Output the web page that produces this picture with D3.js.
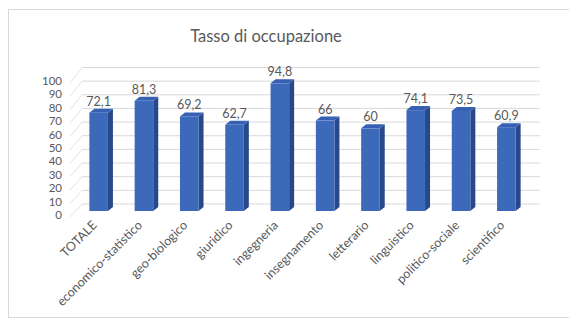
<!DOCTYPE html>
<html>
<head>
<meta charset="utf-8">
<script src="https://cdn.jsdelivr.net/npm/d3@7"></script>
<style>
  body { margin: 0; background: #fff; }
  svg { display: block; font-family: Lato, "Open Sans", sans-serif; }
</style>
</head>
<body>
<svg id="chart" width="569" height="320"></svg>
<script>
// data
const categories = ["TOTALE", "economico-statistico", "geo-biologico", "giuridico", "ingegneria",
  "insegnamento", "letterario", "linguistico", "politico-sociale", "scientifico"];
const values = [72.1, 81.3, 69.2, 62.7, 94.8, 66, 60, 74.1, 73.5, 60.9];
const yTicks = [0, 10, 20, 30, 40, 50, 60, 70, 80, 90, 100];
const title = "Tasso di occupazione";

const svg = d3.select("#chart");

// chart frame
svg.append("rect")
  .attr("x", 8.5).attr("y", 9.5)
  .attr("width", 600).attr("height", 308)
  .attr("fill", "#fff")
  .attr("stroke", "#d9d9d9");

svg.append("text")
  .attr("x", 266).attr("y", 42)
  .attr("text-anchor", "middle")
  .attr("font-size", 16.5)
  .attr("fill", "#595959")
  .text(title);

// front plane (bars), back wall (gridlines), labels on the side
const x = d3.scaleBand().domain(categories).range([76, 529]).paddingInner(0.59).paddingOuter(0.295);
const yF = d3.scaleLinear().domain([0, 100]).range([206, 76.6]);
const yB = d3.scaleLinear().domain([0, 100]).range([204, 67.5]);
const yL = d3.scaleLinear().domain([0, 100]).range([215, 81]);

const depthX = 5, depthY = 4;

const grid = svg.append("g");
grid.selectAll("line.h")
  .data(yTicks)
  .join("line")
  .attr("class", "h")
  .attr("x1", 82).attr("x2", 540)
  .attr("y1", d => yB(d)).attr("y2", d => yB(d))
  .attr("stroke", "#d9d9d9");

grid.selectAll("line.d")
  .data(yTicks)
  .join("line")
  .attr("class", "d")
  .attr("x1", 70).attr("x2", 82)
  .attr("y1", d => yL(d) + 2).attr("y2", d => yB(d))
  .attr("stroke", "#e3e3e3");

svg.append("g").selectAll("text")
  .data(yTicks)
  .join("text")
  .attr("x", 62)
  .attr("y", d => yL(d))
  .attr("dy", "0.35em")
  .attr("text-anchor", "end")
  .attr("font-size", 11.5)
  .attr("fill", "#595959")
  .text(d => d);

// 3d bars
const bars = svg.append("g").selectAll("g")
  .data(values)
  .join("g");

const bottom = yF(0) + 5;

bars.append("path")
  .attr("fill", "#28488c")
  .attr("d", (d, i) => {
    const x1 = x(categories[i]) + x.bandwidth();
    const yt = yF(d);
    return `M${x1},${yt}L${x1 + depthX},${yt - depthY}L${x1 + depthX},${bottom - depthY}L${x1},${bottom}Z`;
  });

bars.append("path")
  .attr("fill", "#3560b3")
  .attr("d", (d, i) => {
    const x0 = x(categories[i]), x1 = x0 + x.bandwidth();
    const yt = yF(d);
    return `M${x0},${yt}L${x1},${yt}L${x1 + depthX},${yt - depthY}L${x0 + depthX},${yt - depthY}Z`;
  });

bars.append("rect")
  .attr("x", (d, i) => x(categories[i]))
  .attr("y", d => yF(d))
  .attr("width", x.bandwidth())
  .attr("height", d => bottom - yF(d))
  .attr("fill", "#3d69bb");

bars.append("text")
  .attr("x", (d, i) => x(categories[i]) + x.bandwidth() / 2)
  .attr("y", d => yF(d) - 7)
  .attr("text-anchor", "middle")
  .attr("font-size", 12.5)
  .attr("fill", "#595959")
  .text(d => String(d).replace(".", ","));

// rotated category labels
svg.append("g").selectAll("text")
  .data(categories)
  .join("text")
  .attr("transform", d => `translate(${x(d) + x.bandwidth() / 2 - 1},226) rotate(-45)`)
  .attr("text-anchor", "end")
  .attr("font-size", 12.5)
  .attr("fill", "#595959")
  .text(d => d);
</script>
</body>
</html>
